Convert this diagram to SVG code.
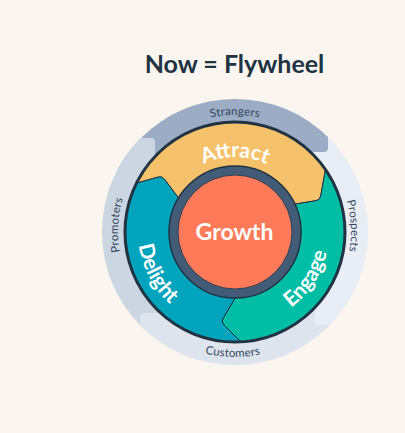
<svg xmlns="http://www.w3.org/2000/svg" xmlns:xlink="http://www.w3.org/1999/xlink" width="405" height="433" viewBox="0 0 405 433">
  <style>
    .title { font-family: Lato, "Noto Sans", sans-serif; font-weight: 700; font-size: 25px; fill: #213343; }
    .ring { font-family: Lato, "Noto Sans", sans-serif; font-weight: 400; font-size: 11.5px; fill: #33475b; letter-spacing: 0.2px; }
    .wheel { font-family: Lato, "Noto Sans", sans-serif; font-weight: 700; font-size: 21px; fill: #ffffff; }
    .seg { stroke: #213343; stroke-width: 1; stroke-linejoin: round; }
  </style>
  <defs>
    <clipPath id="outer"><circle cx="235" cy="232" r="133"/></clipPath>
    <path id="cw117" d="M118,232 A117,117 0 0 1 352,232"/>
    <path id="cw116" d="M119,232 A116,116 0 0 1 351,232"/>
    <path id="cw75" d="M160,232 A75,75 0 0 1 310,232"/>
    <path id="ccw125" d="M110,232 A125,125 0 0 0 360,232"/>
    <path id="ccw97" d="M138,232 A97,97 0 0 0 332,232"/>
    <path id="ccw94" d="M141,232 A94,94 0 0 0 329,232"/>
  </defs>
  <rect x="0" y="0" width="405" height="433" fill="#faf5ee"/>
  <text class="title" x="234.5" y="73" text-anchor="middle">Now = Flywheel</text>

  <g id="outer-ring" clip-path="url(#outer)">
    <path id="band-prospects" fill="#e9eef6" d="M290,0 H405 V325 H319 Q315,325 315,321 V250 H290 Z"/>
    <path id="band-strangers" fill="#9bacc4" d="M0,0 H328 V148 Q328,152 324,152 H200 V170 H0 Z"/>
    <path id="band-promoters" fill="#ccd6e2" d="M0,138 H151 Q155,138 155,142 V200 H200 V433 H0 Z"/>
    <path id="band-customers" fill="#dee4ee" d="M144,313 H260 V290 H315 V321 Q315,325 319,325 H405 V433 H140 V317 Q140,313 144,313 Z"/>
  </g>
  <g id="ring-labels">
    <text class="ring"><textPath xlink:href="#cw117" href="#cw117" startOffset="50%" text-anchor="middle">Strangers</textPath></text>
    <text class="ring" transform="rotate(87 235 232)"><textPath xlink:href="#cw116" href="#cw116" startOffset="50%" text-anchor="middle">Prospects</textPath></text>
    <text class="ring" transform="rotate(1 235 232)"><textPath xlink:href="#ccw125" href="#ccw125" startOffset="50%" text-anchor="middle">Customers</textPath></text>
    <text class="ring" transform="rotate(-86.6 235 232)"><textPath xlink:href="#cw117" href="#cw117" startOffset="50%" text-anchor="middle">Promoters</textPath></text>
  </g>

  <g id="connectors">
    <path class="seg" id="attract-shape" fill="#f5c26b" d="M136.4,183.2 A110,110 0 0 1 325.5,169.4 L320.7,196.06 Q320,200 316.06,200.66 L292.8,204.5 A64,64 0 0 0 179.8,199.7 L164.4,179.2 Q162,176 158.15,177.08 Z"/>
    <path class="seg" id="engage-shape" fill="#00bda5" d="M325.5,169.4 A110,110 0 0 1 240.8,341.8 L223.83,324.83 Q221,322 223,318.5 L236.2,296 A64,64 0 0 0 292.8,204.5 L316.06,200.66 Q320,200 320.7,196.06 Z"/>
    <path class="seg" id="delight-shape" fill="#00a4bd" d="M240.8,341.8 A110,110 0 0 1 136.4,183.2 L158.15,177.08 Q162,176 164.4,179.2 L179.8,199.7 A64,64 0 0 0 236.2,296 L223,318.5 Q221,322 223.83,324.83 Z"/>
    <circle cx="235" cy="232" r="110" fill="none" stroke="#213343" stroke-width="3"/>
  </g>

  <g id="attract">
    <text class="wheel"><textPath xlink:href="#cw75" href="#cw75" startOffset="50%" text-anchor="middle">Attract</textPath></text>
  </g>
  <g id="engage">
    <text class="wheel" transform="rotate(-57 235 232)"><textPath xlink:href="#ccw94" href="#ccw94" startOffset="50%" text-anchor="middle">Engage</textPath></text>
  </g>
  <g id="delight">
    <text class="wheel" transform="rotate(62 235 232)"><textPath xlink:href="#ccw97" href="#ccw97" startOffset="50%" text-anchor="middle">Delight</textPath></text>
  </g>
  <g id="growth">
    <circle cx="235" cy="232" r="66" fill="#425b76" stroke="#213343" stroke-width="1.5"/>
    <circle cx="235" cy="232" r="57" fill="#ff7a59" stroke="#2d3e50" stroke-width="1"/>
    <text class="wheel" x="234.5" y="240" text-anchor="middle" style="font-size:23px">Growth</text>
  </g>
</svg>
